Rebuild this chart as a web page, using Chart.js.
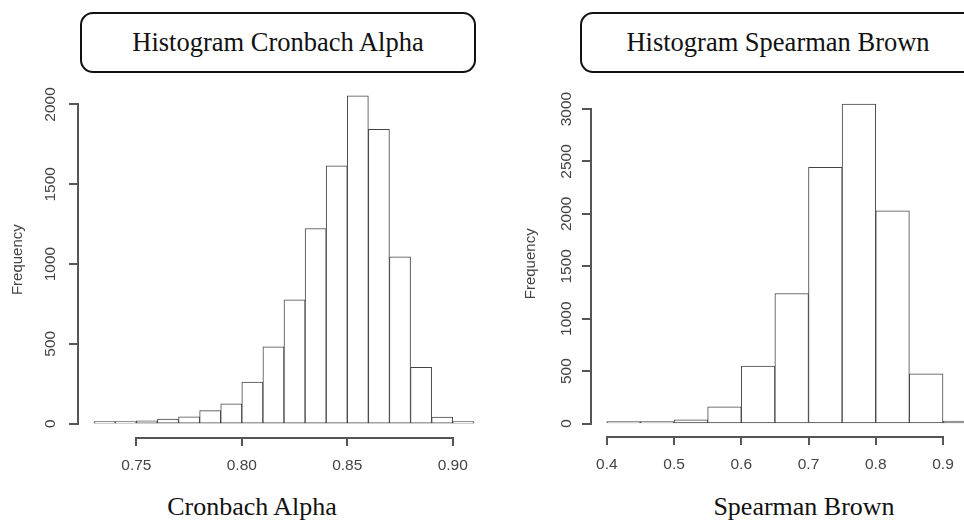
<!DOCTYPE html>
<html>
<head>
<meta charset="utf-8">
<script src="https://cdn.jsdelivr.net/npm/chart.js@4.4.1/dist/chart.umd.min.js"></script>
<style>
  html, body { margin: 0; padding: 0; background: #fff; }
  body { position: relative; width: 964px; height: 522px; overflow: hidden; }
  canvas { position: absolute; top: 0; }
  #histAlpha { left: 0; }
  #histSB { left: 482px; }
  .caja {
    position: absolute; top: 12px; width: 392px; height: 57px;
    border: 2px solid #111; border-radius: 13px;
    font-family: "Liberation Serif", "Times New Roman", serif; font-size: 26.5px;
    line-height: 57px; text-align: center; color: #111; white-space: nowrap;
  }
  .eje {
    position: absolute; top: 492px; width: 300px; height: 30px;
    font-family: "Liberation Serif", "Times New Roman", serif; font-size: 26px;
    line-height: 30px; text-align: center; color: #111; white-space: nowrap;
  }
</style>
</head>
<body>
<div class="caja" style="left:80px">Histogram Cronbach Alpha</div>
<div class="caja" style="left:580px">Histogram Spearman Brown</div>
<div class="eje" style="left:102px">Cronbach Alpha</div>
<div class="eje" style="left:654px">Spearman Brown</div>
<canvas id="histAlpha" width="490" height="522"></canvas>
<canvas id="histSB" width="510" height="522"></canvas>
<script>
// Cronbach Alpha: bordes de clase y frecuencias
const alphaBreaks = [0.73, 0.74, 0.75, 0.76, 0.77, 0.78, 0.79, 0.80, 0.81, 0.82,
  0.83, 0.84, 0.85, 0.86, 0.87, 0.88, 0.89, 0.90, 0.91];
const alphaCounts = [3, 10, 17, 28, 43, 81, 124, 260, 481, 776, 1223, 1615, 2055, 1844, 1045, 353, 41, 4];
const alphaTicks = [0.75, 0.80, 0.85, 0.90];
const alphaTickLabels = ["0.75", "0.80", "0.85", "0.90"];
const alphaFreqTicks = [0, 500, 1000, 1500, 2000];

// Spearman Brown
const sbBreaks = [0.40, 0.45, 0.50, 0.55, 0.60, 0.65, 0.70, 0.75, 0.80, 0.85, 0.90, 0.95];
const sbCounts = [1, 7, 36, 160, 548, 1240, 2443, 3047, 2029, 474, 24];
const sbTicks = [0.4, 0.5, 0.6, 0.7, 0.8, 0.9];
const sbTickLabels = ["0.4", "0.5", "0.6", "0.7", "0.8", "0.9"];
const sbFreqTicks = [0, 500, 1000, 1500, 2000, 2500, 3000];

const GRIS = "#444";
const LINEA = "#555";
const SANS = "'Liberation Sans', Arial, sans-serif";
const TICK = 7.5;

// ejes estilo R: la linea solo va del primer al ultimo tick, marcas hacia afuera
const ejesR = {
  id: "ejesR",
  afterDraw(chart, args, opts) {
    const ctx = chart.ctx;
    const area = chart.chartArea;
    const sx = chart.scales.x, sy = chart.scales.y;
    const xs = opts.xTicks.map((v) => Math.round(sx.getPixelForValue(v)));
    const ys = opts.yTicks.map((v) => Math.round(sy.getPixelForValue(v)));
    const yb = Math.round(area.bottom);
    const xl = Math.round(area.left) - 1;
    const yLo = Math.max(...ys), yHi = Math.min(...ys);
    const t = Math.round(TICK);
    ctx.save();
    ctx.fillStyle = LINEA;
    // eje x
    ctx.fillRect(xs[0] - 1, yb, xs[xs.length - 1] - xs[0] + 2, 2);
    xs.forEach((px) => ctx.fillRect(px - 1, yb, 2, t + 1));
    // eje y
    ctx.fillRect(xl - 1, yHi - 1, 2, yLo - yHi + 2);
    ys.forEach((py) => ctx.fillRect(xl - 1 - t, py - 1, t + 1, 2));
    ctx.restore();
  }
};

function histograma(id, breaks, counts, xTicks, xLabels, yTicks, lay) {
  const lo = breaks[0], hi = breaks[breaks.length - 1];
  const top = Math.max(...counts);
  const datos = counts.map((c, i) => ({ x: (breaks[i] + breaks[i + 1]) / 2, y: c }));
  const sinLinea = "rgba(0,0,0,0)";

  return new Chart(document.getElementById(id), {
    type: "bar",
    data: {
      datasets: [{
        data: datos,
        backgroundColor: "#fff",
        borderColor: "#444",
        borderWidth: 1,
        borderSkipped: false,
        barPercentage: 1,
        categoryPercentage: 1,
        minBarLength: 2,
      }],
    },
    options: {
      responsive: false,
      animation: false,
      devicePixelRatio: 1,
      layout: { padding: { left: lay.left, right: lay.right, top: lay.top, bottom: lay.bottom } },
      plugins: {
        legend: { display: false },
        tooltip: { enabled: false },
        ejesR: { xTicks: xTicks, yTicks: yTicks },
      },
      scales: {
        x: {
          type: "linear",
          offset: false,
          min: lo - 0.04 * (hi - lo),
          max: hi + 0.04 * (hi - lo),
          afterBuildTicks: (s) => { s.ticks = xTicks.map((v) => ({ value: v })); },
          afterFit: (s) => { s.height = 40; },
          grid: { offset: false, drawOnChartArea: false, tickLength: TICK, color: sinLinea },
          border: { display: false },
          ticks: {
            autoSkip: false, maxRotation: 0, padding: 12,
            color: GRIS, font: { family: SANS, size: 15.5 },
            callback: (v, i) => xLabels[i],
          },
        },
        y: {
          type: "linear",
          min: -0.04 * top,
          max: 1.04 * top,
          afterBuildTicks: (s) => { s.ticks = yTicks.map((v) => ({ value: v })); },
          afterFit: (s) => { s.width = 78.5; },
          grid: { drawOnChartArea: false, tickLength: TICK, color: sinLinea },
          border: { display: false },
          ticks: {
            autoSkip: false, minRotation: 90, maxRotation: 90, crossAlign: "center",
            padding: lay.yPad, color: GRIS, font: { family: SANS, size: 15.5 },
            callback: (v) => String(v),
          },
          title: {
            display: true, text: "Frequency", color: GRIS,
            font: { family: SANS, size: 15 }, padding: { top: 8.5, bottom: 0 },
          },
        },
      },
    },
    plugins: [ejesR],
  });
}

histograma("histAlpha", alphaBreaks, alphaCounts, alphaTicks, alphaTickLabels, alphaFreqTicks,
  { left: 0.5, right: 1, top: 82.6, bottom: 45.3, yPad: 3.5 });
histograma("histSB", sbBreaks, sbCounts, sbTicks, sbTickLabels, sbFreqTicks,
  { left: 31.5, right: 0.6, top: 91.3, bottom: 45.7, yPad: 0.8 });
</script>
</body>
</html>
